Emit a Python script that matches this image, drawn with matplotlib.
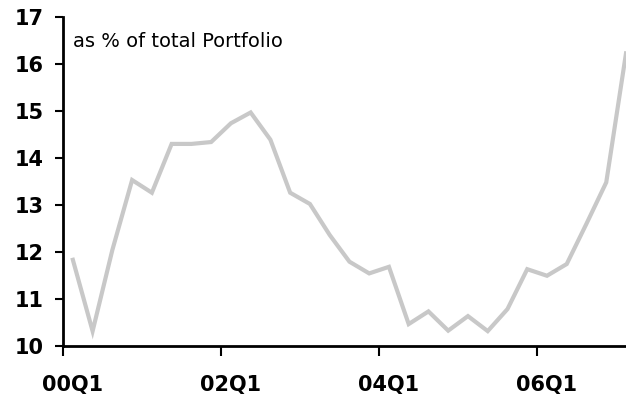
import matplotlib.pyplot as plt
import numpy as np

plt.rcParams['font.family'] = ['DejaVu Sans']

# quarterly share, 00Q1 .. 07Q1
quarters = [f"{y:02d}Q{q}" for y in range(0, 8) for q in range(1, 5)][:29]
share = [11.83, 10.31, 12.04, 13.53, 13.26, 14.30, 14.30, 14.34, 14.74, 14.97,
         14.39, 13.26, 13.02, 12.36, 11.79, 11.54, 11.68, 10.46, 10.73, 10.32,
         10.63, 10.31, 10.78, 11.63, 11.49, 11.74, 12.60, 13.48, 16.23]
label_quarters = ["00Q1", "02Q1", "04Q1", "06Q1"]

fig = plt.figure(figsize=(6.26, 4.01), dpi=100)
ax = fig.add_axes([0.1006, 0.138, 0.8994, 0.819])

x = np.arange(len(share))
ax.plot(x, share, color='#c8c8c8', lw=3, solid_joinstyle='miter', clip_on=False)

ax.set_xlim(-0.5, 28.0)
ax.set_ylim(10, 17)

pos = [quarters.index(q) for q in label_quarters]
ax.set_xticks([p - 0.5 for p in pos])
ax.set_xticklabels([])
ax.set_xticks(pos, minor=True)
ax.set_xticklabels(label_quarters, minor=True, fontsize=15, fontweight='bold')
ax.tick_params(axis='x', which='minor', length=0, pad=21)
ax.tick_params(axis='x', which='major', length=7, width=1.5, direction='out')

ax.set_yticks(range(10, 18))
ax.set_yticklabels([str(v) for v in range(10, 18)], fontsize=15, fontweight='bold')
ax.tick_params(axis='y', length=6, width=1.5, direction='out', pad=8)

for s in ['top', 'right']:
    ax.spines[s].set_visible(False)
for s in ['left', 'bottom']:
    ax.spines[s].set_linewidth(2)

ax.text(0.017, 0.925, "as % of total Portfolio", transform=ax.transAxes,
        fontsize=14, ha='left', va='center')

fig.savefig('out.png', dpi=100)
